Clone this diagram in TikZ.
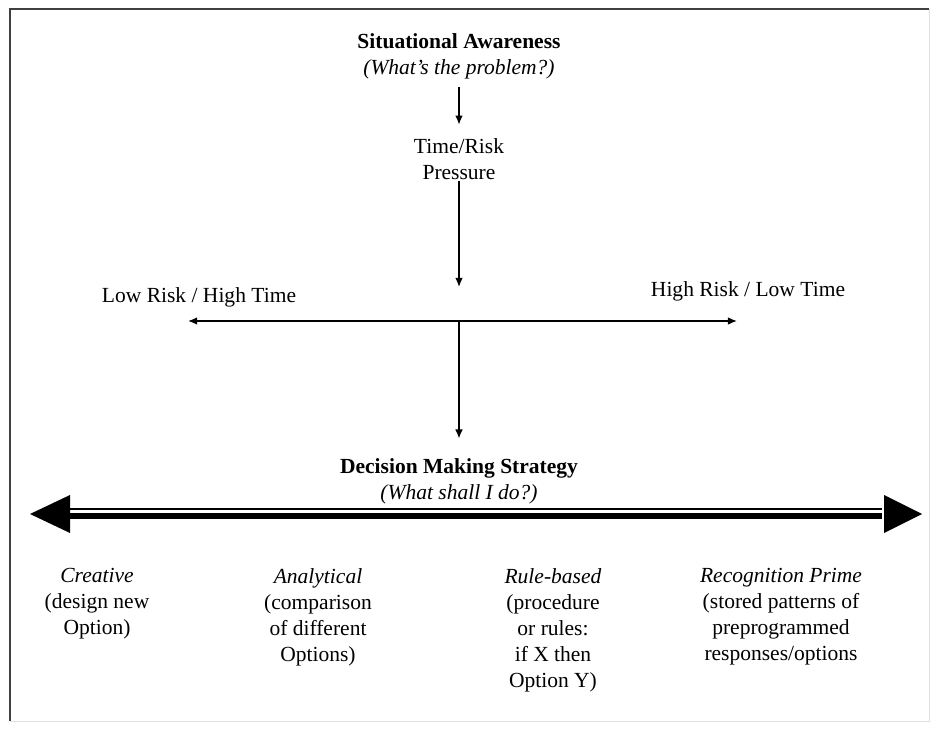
\documentclass[tikz,border=0pt]{standalone}
\usepackage{fontspec}
\setmainfont{Liberation Serif}
\usepackage{tikz}
\usetikzlibrary{arrows.meta}
\usetikzlibrary{positioning}

\begin{document}
\begin{tikzpicture}[x=0.025cm,y=-0.025cm,every node/.style={align=center,inner sep=1pt,font=\fontsize{15.3}{18.5}\selectfont},
  arr/.style={line width=1.1pt,-{Latex[length=6.5pt,width=5.5pt]}}]
  \useasboundingbox (0,0) rectangle (931,728);
  \draw[line width=1.6pt,black!75](10,721)--(10,9)--(929,9);
  \draw[line width=0.6pt,black!12](929,9)--(929,721)--(10,721);
  \node (sa) at (459,56) {\textbf{Situational Awareness}\\\textit{(What’s the problem?)}};
  \node (trp) at (459,159) {Time/Risk\\Pressure};
  \coordinate (mid) at (459,321);
  \coordinate (lt) at (188,321);
  \coordinate (rt) at (737,321);
  \node (lrht) at (199,297) {Low Risk / High Time};
  \node (hrlt) at (748,291) {High Risk / Low Time};
  \node (dms) at (459,481) {\textbf{Decision Making Strategy}\\\textit{(What shall I do?)}};
  \coordinate (dl) at (30,514);
  \coordinate (dr) at (922,514);
  \node[anchor=north] (cre) at (97,567) {\textit{Creative}\\(design new\\Option)};
  \node[anchor=north] (ana) at (318,567) {\textit{Analytical}\\(comparison\\of different\\Options)};
  \node[anchor=north] (rul) at (553,567) {\textit{Rule-based}\\(procedure\\or rules:\\if X then\\Option Y)};
  \node[anchor=north] (rec) at (781,567) {\textit{Recognition Prime}\\(stored patterns of\\preprogrammed\\responses/options};
  \draw[arr,shorten <=0.17cm,shorten >=0.3cm](sa)--(trp);
  \draw[arr,shorten >=0.85cm](trp)--(mid);
  \draw[arr](mid)--(lt);
  \draw[arr](mid)--(rt);
  \draw[arr,shorten >=0.45cm](mid)--(dms);
  % double arrow
  \draw[line width=1.3pt]([xshift=1cm,yshift=0.125cm]dl)--([xshift=-1cm,yshift=0.125cm]dr);
  \draw[line width=4.3pt]([xshift=1cm,yshift=-0.05cm]dl)--([xshift=-1cm,yshift=-0.05cm]dr);
  \fill(dl)--++(40,-19)--++(0,38)--cycle;
  \fill(dr)--++(-38,-19)--++(0,38)--cycle;
\end{tikzpicture}
\end{document}
